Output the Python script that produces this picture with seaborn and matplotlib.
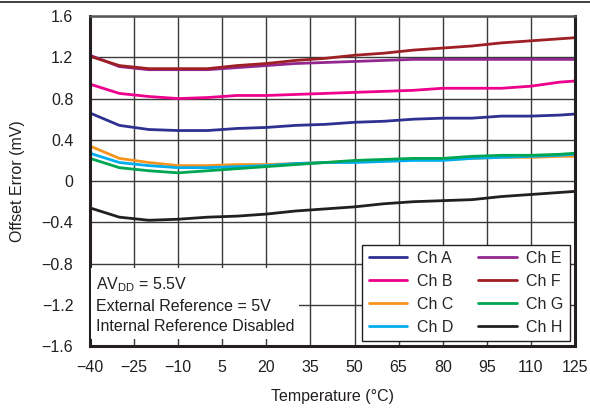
import numpy as np
import pandas as pd
import matplotlib
matplotlib.use("Agg")
import matplotlib.pyplot as plt
import seaborn as sns
from matplotlib.lines import Line2D

temps = [-40, -30, -20, -10, 0, 10, 20, 30, 40, 50, 60, 70, 80, 90, 100, 110, 120, 125]
ch_a = [0.66, 0.54, 0.50, 0.49, 0.49, 0.51, 0.52, 0.54, 0.55, 0.57, 0.58, 0.60, 0.61, 0.61, 0.63, 0.63, 0.64, 0.65]
ch_b = [0.94, 0.85, 0.82, 0.80, 0.81, 0.83, 0.83, 0.84, 0.85, 0.86, 0.87, 0.88, 0.90, 0.90, 0.90, 0.92, 0.96, 0.97]
ch_c = [0.34, 0.22, 0.18, 0.15, 0.15, 0.16, 0.16, 0.17, 0.18, 0.19, 0.20, 0.21, 0.21, 0.22, 0.23, 0.23, 0.24, 0.24]
ch_d = [0.27, 0.18, 0.15, 0.13, 0.13, 0.14, 0.15, 0.17, 0.18, 0.18, 0.19, 0.20, 0.20, 0.22, 0.23, 0.24, 0.25, 0.26]
ch_e = [1.22, 1.11, 1.08, 1.08, 1.08, 1.10, 1.12, 1.14, 1.15, 1.16, 1.17, 1.18, 1.18, 1.18, 1.18, 1.18, 1.18, 1.18]
ch_f = [1.21, 1.12, 1.09, 1.09, 1.09, 1.12, 1.14, 1.17, 1.19, 1.22, 1.24, 1.27, 1.29, 1.31, 1.34, 1.36, 1.38, 1.39]
ch_g = [0.22, 0.13, 0.10, 0.08, 0.10, 0.12, 0.14, 0.16, 0.18, 0.20, 0.21, 0.22, 0.22, 0.24, 0.25, 0.25, 0.26, 0.27]
ch_h = [-0.26, -0.35, -0.38, -0.37, -0.35, -0.34, -0.32, -0.29, -0.27, -0.25, -0.22, -0.20, -0.19, -0.18, -0.15, -0.13, -0.11, -0.10]

channels = ["Ch A", "Ch B", "Ch C", "Ch D", "Ch E", "Ch F", "Ch G", "Ch H"]
series = [ch_a, ch_b, ch_c, ch_d, ch_e, ch_f, ch_g, ch_h]
colors = ["#2e3192", "#ec008c", "#f7941d", "#00aeef", "#92278f", "#9e1f24", "#00a651", "#231f20"]

xticks = [-40, -25, -10, 5, 20, 35, 50, 65, 80, 95, 110, 125]
yticks = [-1.6, -1.2, -0.8, -0.4, 0, 0.4, 0.8, 1.2, 1.6]
ytick_labels = ["\u22121.6", "\u22121.2", "\u22120.8", "\u22120.4", "0", "0.4", "0.8", "1.2", "1.6"]
xtick_labels = [("\u2212" + str(-t)) if t < 0 else str(t) for t in xticks]

df = pd.DataFrame({
    "Temperature": np.tile(temps, len(channels)),
    "Offset": np.concatenate(series),
    "Channel": np.repeat(channels, len(temps)),
})

sns.set_theme(style="white")
plt.rcParams["font.family"] = ["Liberation Sans", "DejaVu Sans"]

FS = 11.5
fig = plt.figure(figsize=(5.9, 4.12), dpi=100)
ax = fig.add_axes([0.1525, 0.160, 0.822, 0.801])

sns.lineplot(data=df, x="Temperature", y="Offset", hue="Channel",
             palette=dict(zip(channels, colors)), linewidth=2.0, ax=ax, legend=False)

ax.set_xlim(-40, 125)
ax.set_ylim(-1.6, 1.6)
ax.set_xticks(xticks)
ax.set_xticklabels(xtick_labels, fontsize=FS, color="#231f20")
ax.set_yticks(yticks)
ax.set_yticklabels(ytick_labels, fontsize=FS, color="#231f20")
ax.tick_params(axis="y", length=0, pad=12)
ax.tick_params(axis="x", length=0, pad=10)
ax.grid(True, color="#3a3a3a", linewidth=1.0)
ax.set_axisbelow(True)
for s in ["left", "bottom", "right"]:
    ax.spines[s].set_color("#231f20")
    ax.spines[s].set_linewidth(2.2)
ax.spines["top"].set_color("#555555")
ax.spines["top"].set_linewidth(1.8)

ax.set_xlabel("Temperature (\u00b0C)", fontsize=FS, color="#231f20", labelpad=10)
ax.set_ylabel("Offset Error (mV)", fontsize=FS, color="#231f20", labelpad=12)

# annotation box
ax.text(-38.0, -0.91,
        "AV$_{\\mathregular{DD}}$ = 5.5V\nExternal Reference = 5V\nInternal Reference Disabled",
        fontsize=FS, color="#231f20", va="top", ha="left", linespacing=1.45,
        bbox=dict(facecolor="white", edgecolor="none", boxstyle="square,pad=0.3"),
        zorder=5)

handles = [Line2D([0], [0], color=c, lw=2.0) for c in colors]
leg = ax.legend(handles, channels, ncol=2, loc="lower right", fontsize=FS,
                frameon=True, fancybox=False, edgecolor="#231f20",
                borderaxespad=0.3, handlelength=2.4, columnspacing=1.6,
                labelspacing=0.5, handletextpad=0.6, borderpad=0.4)
leg.get_frame().set_linewidth(1.0)
leg.get_frame().set_alpha(1.0)
leg.set_zorder(6)

fig.add_artist(Line2D([0.0, 1.0], [0.995, 0.995], color="#231f20", lw=1.2,
                      transform=fig.transFigure))

fig.savefig("out.png", dpi=100)
